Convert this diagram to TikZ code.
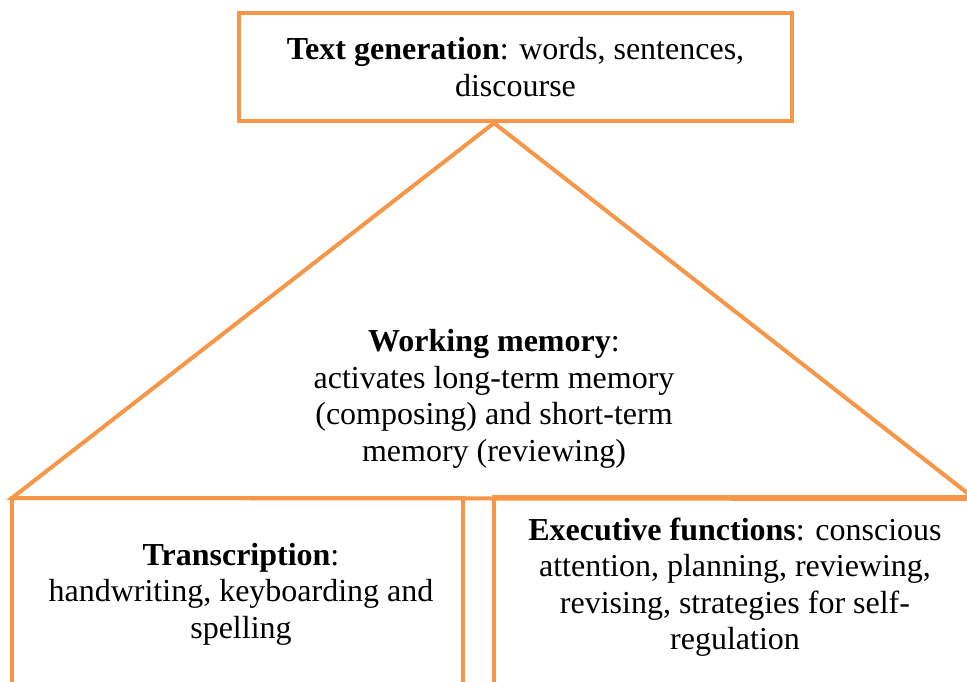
\documentclass[tikz,border=0pt]{standalone}
\usepackage{fontspec}
\setmainfont{Liberation Serif}
\usetikzlibrary{positioning}
\definecolor{narancs}{HTML}{F79646}

\begin{document}
\begin{tikzpicture}[x=1pt, y=-1pt,
        keret/.style={draw=narancs, line width=4pt},
        szoveg/.style={align=center, font=\fontsize{32}{36.5}\selectfont}]
        \clip (0,0) rectangle (967,682);
        \fill[white] (0,0) rectangle (967,682);

        % felso doboz
        \node[keret, szoveg, minimum width=553pt, minimum height=108pt] (gen) at (515.5,67)
        {\textbf{Text generation}: words, sentences,\\discourse};

        % haromszog
        \coordinate (csucs) at (494,123);
        \coordinate (balsarok) at (12,498);
        \coordinate (jobbsarok) at (975,499);
        \draw[keret, line join=miter] (balsarok) -- (csucs) -- (jobbsarok) -- cycle;
        \node[szoveg] (wm) at (494,399)
        {\textbf{Working memory}:\\activates long-term memory\\(composing) and short-term\\memory (reviewing)};

        % also dobozok
        \node[keret, minimum width=451pt, minimum height=220pt] (bal) at (237.5,608) {};
        \node[keret, minimum width=490pt, minimum height=220pt] (jobb) at (739,607) {};
        \node[szoveg] (trans) at (241,594)
        {\textbf{Transcription}:\\handwriting, keyboarding and\\spelling};
        \node[szoveg] (exec) at (735,587)
        {\textbf{Executive functions}: conscious\\attention, planning, reviewing,\\revising, strategies for self-\\regulation};
\end{tikzpicture}
\end{document}
